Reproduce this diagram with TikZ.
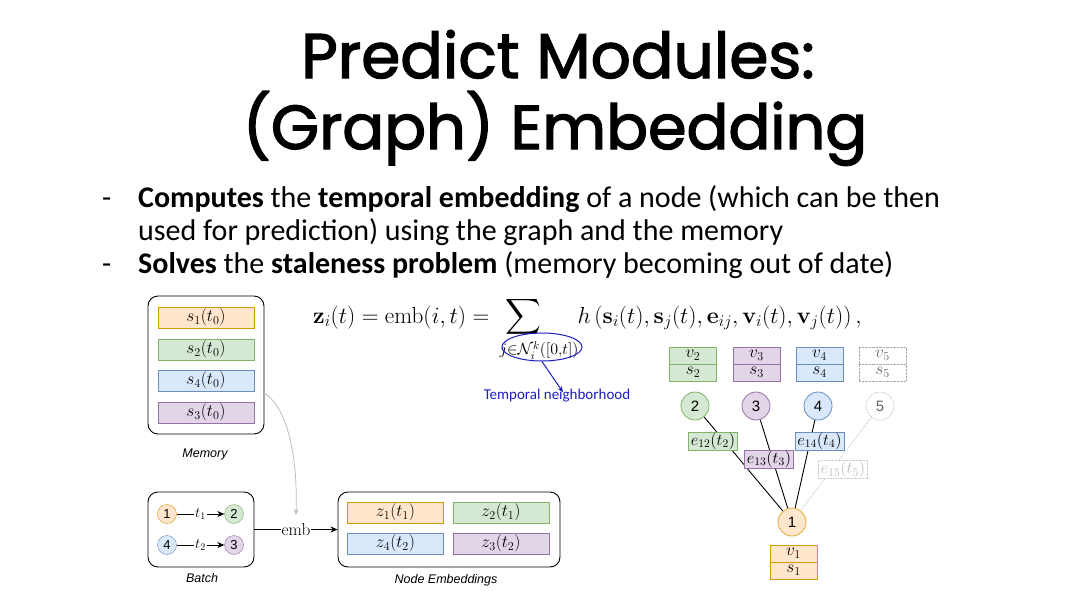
\RequirePackage{fix-cm}
\documentclass[tikz,border=0pt]{standalone}
\usepackage{amsmath}
\usepackage[no-math]{fontspec}
\setmainfont{Carlito}
\newfontfamily\titlefont[FakeBold=2.2]{Poppins}
\newfontfamily\helv{Liberation Sans}
\usetikzlibrary{arrows.meta,shapes.geometric}
\definecolor{orF}{HTML}{FFE6CC}\definecolor{orD}{HTML}{D79B00}
\definecolor{grF}{HTML}{D5E8D4}\definecolor{grD}{HTML}{82B366}
\definecolor{blF}{HTML}{DAE8FC}\definecolor{blD}{HTML}{6C8EBF}
\definecolor{puF}{HTML}{E1D5E7}\definecolor{puD}{HTML}{9673A6}
\definecolor{tnblue}{HTML}{1E1EC0}
\tikzset{
  cell/.style={draw, minimum width=96, minimum height=21, inner sep=0, font=\fontsize{17.3}{19}\selectfont},
  frame/.style={draw, rounded corners=10, line width=0.9pt, inner sep=0},
  capt/.style={font=\helv\itshape\fontsize{12.5}{14}\selectfont},
  bnode/.style={circle, draw, minimum size=19, inner sep=0, font=\helv\fontsize{13}{15}\selectfont},
  gnode/.style={circle, draw, minimum size=28, inner sep=0, line width=0.8pt, font=\helv\fontsize{15}{17}\selectfont},
  half/.style={draw, minimum width=47, minimum height=17, inner sep=0, font=\fontsize{17.3}{19}\selectfont},
  elab/.style={draw, minimum width=49, minimum height=18, inner sep=0, font=\fontsize{16.5}{18}\selectfont},
  bul/.style={anchor=base west, inner sep=0, font=\fontsize{30}{34}\selectfont},
  arr/.style={-{Stealth[length=7pt,width=6pt]}, line width=0.8pt},
}
\begin{document}
\begin{tikzpicture}[x=1pt,y=-1pt]
\useasboundingbox[fill=white] (0,0) rectangle (1080,608);
% title
\node[anchor=base, inner sep=0, font=\titlefont\fontsize{63}{70}\selectfont] (t1) at (558,78) {Predict Modules:};
\node[anchor=base, inner sep=0, font=\titlefont\fontsize{62}{70}\selectfont] (t2) at (555,149) {(Graph) Embedding};
% bullets
\node[bul] (d1) at (102,207) {-};
\node[bul] (l1) at (138,207) {\textbf{Computes} the \textbf{temporal embedding} of a node (which can be then};
\node[bul] (l2) at (138,240) {used for prediction) using the graph and the memory};
\node[bul] (d3) at (102,273) {-};
\node[bul] (l3) at (138,273) {\textbf{Solves} the \textbf{staleness problem} (memory becoming out of date)};
% memory
\node[frame, minimum width=116, minimum height=138] (mem) at (206,365) {};
\node[cell, fill=orF, draw=orD] (m1) at (206,317.5) {$s_1(t_0)$};
\node[cell, fill=grF, draw=grD] (m2) at (206,349.5) {$s_2(t_0)$};
\node[cell, fill=blF, draw=blD] (m3) at (206,380.5) {$s_4(t_0)$};
\node[cell, fill=puF, draw=puD] (m4) at (206,412.5) {$s_3(t_0)$};
\node[capt] (memc) at (205,454) {Memory};
% batch
\node[frame, minimum width=106, minimum height=75] (batch) at (201,529.5) {};
\node[bnode, fill=orF, draw=orD] (b1) at (167,514) {1};
\node[bnode, fill=grF, draw=grD] (b2) at (234,514) {2};
\node[bnode, fill=blF, draw=blD] (b4) at (167,545) {4};
\node[bnode, fill=puF, draw=puD] (b3) at (234,545) {3};
\draw[arr] (b1) -- node[fill=white, inner sep=1, font=\fontsize{14.4}{16}\selectfont] {$t_1$} (b2);
\draw[arr] (b4) -- node[fill=white, inner sep=1, font=\fontsize{14.4}{16}\selectfont] {$t_2$} (b3);
\node[capt] (batchc) at (202,578) {Batch};
% node embeddings
\node[frame, minimum width=222, minimum height=75] (ne) at (449,529.5) {};
\node[cell, fill=orF, draw=orD] (z1) at (395.5,512.5) {$z_1(t_1)$};
\node[cell, fill=grF, draw=grD] (z2) at (501,512.5) {$z_2(t_1)$};
\node[cell, fill=blF, draw=blD] (z4) at (395.5,543.5) {$z_4(t_2)$};
\node[cell, fill=puF, draw=puD] (z3) at (501,543.5) {$z_3(t_2)$};
\node[capt] (nec) at (446,580) {Node Embeddings};
\draw[arr] (batch.east) -- node[fill=white, inner sep=1, font=\fontsize{17.3}{19}\selectfont] {$\mathrm{emb}$} (ne.west);
% gray curve
\coordinate (memout) at (264,393);
\coordinate (embin) at (296,515);
\draw[black!25, line width=0.8pt, -{Stealth[length=6pt,width=5pt]}] (memout) .. controls (285,405) and (298,450) .. (embin);
% formula
\node[anchor=base west, inner sep=0, font=\fontsize{23.2}{26}\selectfont] (form) at (313,323)
 {$\displaystyle \mathbf{z}_i(t)=\mathrm{emb}(i,t)=\sum_{\makebox[56pt][l]{\hspace{4pt}\fontsize{22.8}{24}\selectfont$\scriptstyle j\in\mathcal{N}_i^k([0,t])$}}\hspace{22pt} h\left(\mathbf{s}_i(t),\mathbf{s}_j(t),\mathbf{e}_{ij},\mathbf{v}_i(t),\mathbf{v}_j(t)\right),$};
\node[draw=tnblue, ellipse, line width=1pt, minimum width=80, minimum height=28, inner sep=0] (ell) at (542,347) {};
\node[inner sep=0, text=tnblue, font=\fontsize{15}{17}\selectfont] (tn) at (557,396) {Temporal neighborhood};
\draw[tnblue, line width=1pt, -{Stealth[length=6pt,width=5pt]}] (ell.south) -- ([xshift=6,yshift=-3]tn.north);
% right graph: feature stacks
\node[half, fill=grF, draw=grD] (v2) at (693,355.5) {$v_2$};
\node[half, fill=grF, draw=grD] (s2) at (693,372.5) {$s_2$};
\node[half, fill=puF, draw=puD] (v3) at (756.5,355.5) {$v_3$};
\node[half, fill=puF, draw=puD] (s3) at (756.5,372.5) {$s_3$};
\node[half, fill=blF, draw=blD] (v4) at (819.5,355.5) {$v_4$};
\node[half, fill=blF, draw=blD] (s4) at (819.5,372.5) {$s_4$};
\node[half, draw=black!35, densely dotted, text=black!60] (v5) at (882.5,355.5) {$v_5$};
\node[half, draw=black!35, densely dotted, text=black!60] (s5) at (882.5,372.5) {$s_5$};
% nodes
\node[gnode, fill=grF, draw=grD] (n2) at (695,406) {2};
\node[gnode, fill=puF, draw=puD] (n3) at (756,406) {3};
\node[gnode, fill=blF, draw=blD] (n4) at (818,406) {4};
\node[gnode, draw=black!25, densely dotted, text=black!60] (n5) at (880,406) {5};
\node[gnode, fill=orF, draw=orD!80] (n1) at (792,522) {1};
\node[half, fill=orF, draw=orD] (v1) at (793.5,553.5) {$v_1$};
\node[half, fill=orF, draw=orD] (s1) at (793.5,570.5) {$s_1$};
% edges
\draw[line width=0.9pt] (n2) -- (n1);
\draw[line width=0.9pt] (n3) -- (n1);
\draw[line width=0.9pt] (n4) -- (n1);
\draw[black!25, densely dotted, line width=0.8pt] (n5) -- (n1);
% edge labels
\node[elab, fill=grF, draw=grD] (e12) at (713,441) {$e_{12}(t_2)$};
\node[elab, fill=puF, draw=puD] (e13) at (769,459) {$e_{13}(t_3)$};
\node[elab, fill=blF, draw=blD] (e14) at (819.5,441) {$e_{14}(t_4)$};
\node[elab, fill=white, draw=black!20, densely dotted, text=black!25] (e15) at (843,469.5) {$e_{15}(t_5)$};
\end{tikzpicture}
\end{document}
